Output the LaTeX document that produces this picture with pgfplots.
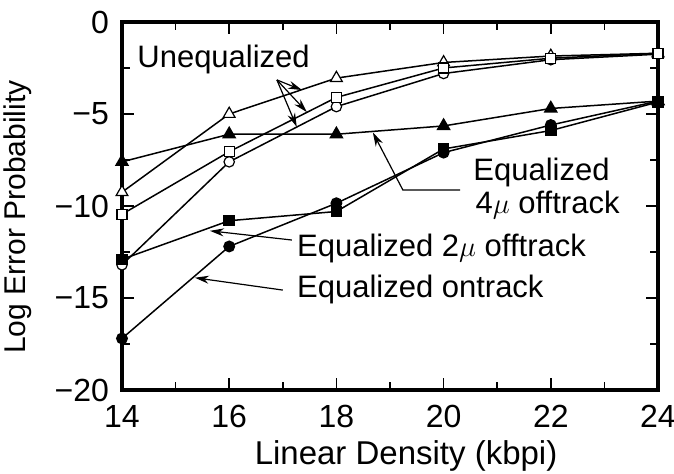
\documentclass[border=0pt]{standalone}
\usepackage{fontspec}
\setmainfont{Liberation Sans}
\usepackage{pgfplots}
\pgfplotsset{compat=1.18}
\usetikzlibrary{arrows.meta}

\begin{document}
\begin{tikzpicture}
\begin{axis}[
  scale only axis, width=268pt, height=184pt,
  xmin=14, xmax=24, ymin=-20, ymax=0,
  xtick={14,16,18,20,22,24}, xticklabels={14,16,18,20,22,24},
  minor xtick={15,17,19,21,23},
  ytick={-20,-15,-10,-5,0}, yticklabels={−20,−15,−10,−5,0},
  minor ytick={-17.5,-12.5,-7.5,-2.5},
  tick align=inside,
  major tick length=6pt, minor tick length=4pt,
  tick style={black, line width=0.8pt},
  axis line style={line width=1.8pt},
  ticklabel style={font=\fontsize{16}{18}\selectfont},
  xticklabel style={yshift=-4pt},
  yticklabel style={xshift=-3pt},
  xlabel={Linear Density (kbpi)},
  ylabel={Log Error Probability},
  every axis x label/.style={at={(rel axis cs:0.53,0)}, yshift=-33pt, anchor=center, font=\fontsize{16.5}{18}\selectfont},
  every axis y label/.style={at={(rel axis cs:0,0.47)}, xshift=-52pt, anchor=center, rotate=90, font=\fontsize{15}{17}\selectfont},
  clip=false,
]
% unequalized (open marks)
\addplot[black, line width=0.75pt, mark=triangle*, mark size=3.4pt, mark options={fill=white, line width=0.6pt}] coordinates {
  (14,-9.25) (16,-5.0) (18,-3.05) (20,-2.2) (22,-1.85) (24,-1.7)};
\addplot[black, line width=0.75pt, mark=*, mark size=2.6pt, mark options={fill=white, line width=0.6pt}] coordinates {
  (14,-13.2) (16,-7.6) (18,-4.6) (20,-2.8) (22,-2.05) (24,-1.75)};
\addplot[black, line width=0.75pt, mark=square*, mark size=2.5pt, mark options={fill=white, line width=0.6pt}] coordinates {
  (14,-10.45) (16,-7.05) (18,-4.1) (20,-2.5) (22,-1.97) (24,-1.7)};
% equalized (filled marks)
\addplot[black, line width=0.75pt, mark=*, mark size=2.6pt, mark options={fill=black}] coordinates {
  (14,-17.2) (16,-12.2) (18,-9.85) (20,-7.1) (22,-5.6) (24,-4.3)};
\addplot[black, line width=0.75pt, mark=square*, mark size=2.5pt, mark options={fill=black}] coordinates {
  (14,-12.9) (16,-10.8) (18,-10.3) (20,-6.9) (22,-5.9) (24,-4.35)};
\addplot[black, line width=0.75pt, mark=triangle*, mark size=3.4pt, mark options={fill=black}] coordinates {
  (14,-7.6) (16,-6.1) (18,-6.1) (20,-5.65) (22,-4.7) (24,-4.3)};

% annotations
\tikzset{lab/.style={font=\fontsize{15.5}{17}\selectfont, inner sep=0pt},
         arr/.style={line width=0.6pt, -{Stealth[length=7pt,width=4pt]}}}
\node[lab, anchor=base west] at (axis cs:14.28,-2.5) {Unequalized};
\draw[arr] (axis cs:16.89,-3.15) -- (axis cs:17.36,-3.7);
\draw[arr] (axis cs:16.89,-3.15) -- (axis cs:17.45,-4.9);
\draw[arr] (axis cs:16.89,-3.15) -- (axis cs:17.26,-5.7);

\node[lab, anchor=base west] at (axis cs:20.55,-8.59) {Equalized};
\node[lab, anchor=base west] at (axis cs:20.59,-10.4) {4$\mu$ offtrack};
\draw[arr] (axis cs:20.31,-9.13) -- (axis cs:19.24,-9.13) -- (axis cs:18.68,-6.0);

\node[lab, anchor=base west] at (axis cs:17.26,-12.77) {Equalized 2$\mu$ offtrack};
\draw[arr] (axis cs:17.17,-11.85) -- (axis cs:15.64,-11.35);

\node[lab, anchor=base west] at (axis cs:17.26,-15.0) {Equalized ontrack};
\draw[arr] (axis cs:17.0,-14.57) -- (axis cs:15.36,-13.9);

\coordinate (O) at (rel axis cs:0,0);
\end{axis}
\pgfresetboundingbox
\path ([shift={(-61pt,-42pt)}]O) rectangle ([shift={(276pt,195pt)}]O);
\end{tikzpicture}
\end{document}
